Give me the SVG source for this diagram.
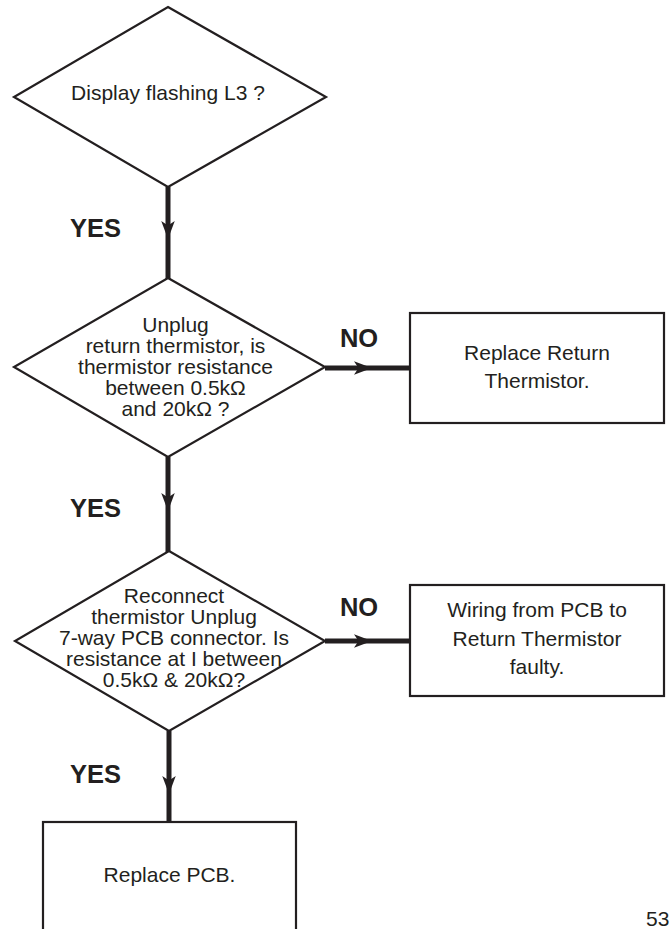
<svg xmlns="http://www.w3.org/2000/svg" width="672" height="929" viewBox="0 0 672 929">
  <style>
    .shape { fill: #ffffff; stroke: #231f20; stroke-width: 2.2; stroke-linejoin: miter; }
    .txt { font-family: "Liberation Sans", Arial, sans-serif; font-size: 21px; fill: #231f20; text-anchor: middle; }
    .lbl { font-family: "Liberation Sans", Arial, sans-serif; font-size: 25.5px; font-weight: bold; fill: #231f20; text-anchor: middle; }
    .conn { fill: none; stroke: #231f20; stroke-width: 5; marker-mid: url(#arrow); }
    .pg { font-family: "Liberation Sans", Arial, sans-serif; font-size: 21px; fill: #231f20; }
  </style>
  <defs>
    <marker id="arrow" markerUnits="userSpaceOnUse" markerWidth="18" markerHeight="14" viewBox="0 0 16 12" refX="16" refY="6" orient="auto">
      <path d="M0,0 L16,6 L0,12 L4,6 Z" fill="#231f20"/>
    </marker>
  </defs>
  <rect width="672" height="929" fill="#ffffff"/>

  <g id="connectors">
    <path class="conn" d="M168,187 L168,239 L168,279"/>
    <path class="conn" d="M168,457 L168,511 L168,552"/>
    <path class="conn" d="M169,731 L169,794 L169,822"/>
    <path class="conn" d="M325,368 L372,368 L410,368"/>
    <path class="conn" d="M325,641 L372,641 L410,641"/>
    <text class="lbl" x="95.5" y="237">YES</text>
    <text class="lbl" x="95.5" y="517">YES</text>
    <text class="lbl" x="95.5" y="783">YES</text>
    <text class="lbl" x="359" y="347">NO</text>
    <text class="lbl" x="359" y="616">NO</text>
  </g>

  <g id="q1">
    <polygon class="shape" points="168,7 326,97 168,187 14,97"/>
    <text class="txt" x="168" y="100">Display flashing L3 ?</text>
  </g>

  <g id="q2">
    <polygon class="shape" points="168,278 325,367 168,457 14,367"/>
    <text class="txt" x="175.5" y="332">Unplug</text>
    <text class="txt" x="175.5" y="353">return thermistor, is</text>
    <text class="txt" x="175.5" y="374">thermistor resistance</text>
    <text class="txt" x="175.5" y="395">between 0.5kΩ</text>
    <text class="txt" x="175.5" y="416">and 20kΩ ?</text>
  </g>

  <g id="q3">
    <polygon class="shape" points="169,551 325,641 169,731 15,641"/>
    <text class="txt" x="174" y="603">Reconnect</text>
    <text class="txt" x="174" y="624">thermistor Unplug</text>
    <text class="txt" x="174" y="645">7-way PCB connector. Is</text>
    <text class="txt" x="174" y="666">resistance at I between</text>
    <text class="txt" x="174" y="687">0.5kΩ &amp; 20kΩ?</text>
  </g>

  <g id="replace-return-thermistor">
    <rect class="shape" x="410" y="313" width="254" height="110"/>
    <text class="txt" x="537" y="360">Replace Return</text>
    <text class="txt" x="537" y="388">Thermistor.</text>
  </g>

  <g id="wiring-faulty">
    <rect class="shape" x="410" y="585" width="254" height="111"/>
    <text class="txt" x="537" y="617">Wiring from PCB to</text>
    <text class="txt" x="537" y="646">Return Thermistor</text>
    <text class="txt" x="537" y="674">faulty.</text>
  </g>

  <g id="replace-pcb">
    <rect class="shape" x="43" y="822" width="253" height="130"/>
    <text class="txt" x="169.5" y="882">Replace PCB.</text>
  </g>

  <text class="pg" x="646" y="926">53</text>
</svg>
